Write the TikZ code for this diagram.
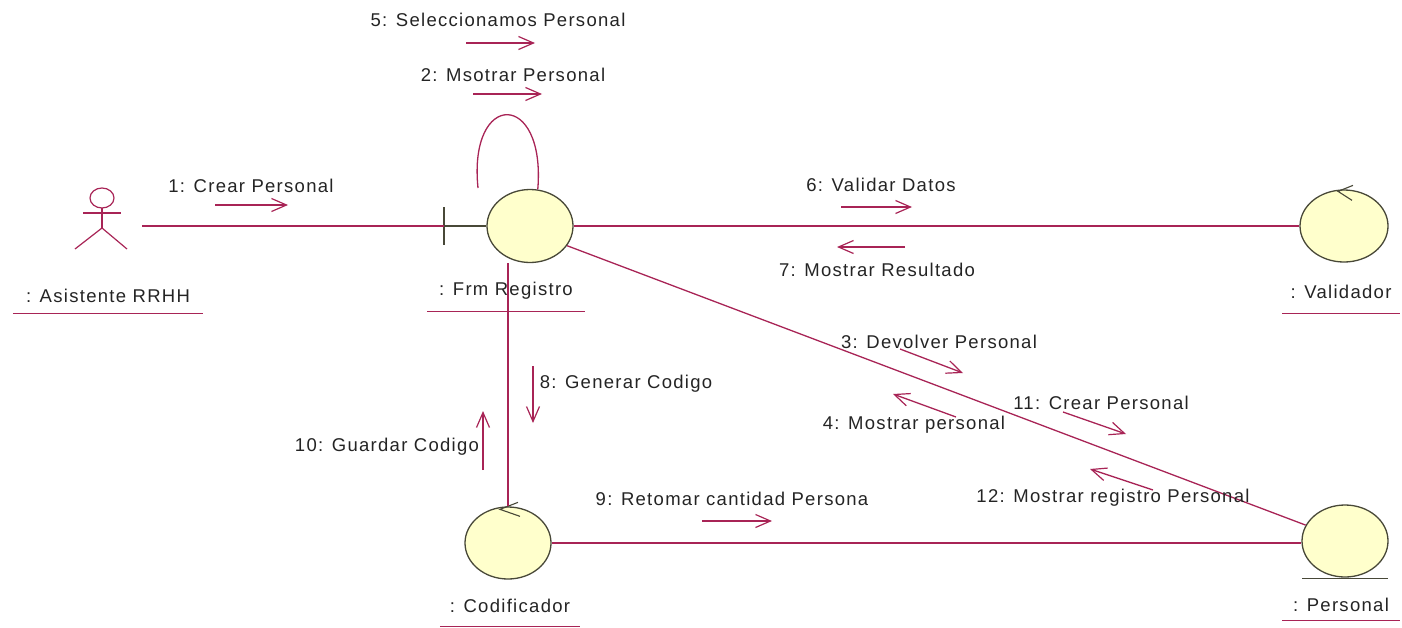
\documentclass[tikz,border=0pt]{standalone}
\usepackage{fontspec}
\setmainfont{Liberation Sans}[LetterSpace=7]
\usetikzlibrary{shapes.geometric,arrows.meta}
\definecolor{wire}{RGB}{168,36,86}
\definecolor{objfill}{RGB}{255,255,204}
\definecolor{objedge}{RGB}{72,72,56}
\definecolor{ink}{RGB}{36,36,36}
\tikzset{
  x=1pt, y=-1pt,
  obj/.style={ellipse, draw=objedge, fill=objfill, line width=1.3pt, inner sep=0pt,
              minimum width=86pt, minimum height=73pt},
  link/.style={draw=wire, line width=1.3pt},
  dark/.style={draw=objedge, line width=1.3pt},
  msg/.style={draw=wire, line width=1.3pt, -{Straight Barb[length=15pt,width=13pt,line width=1.2pt]}},
  lbl/.style={text=ink, inner sep=0pt, font=\fontsize{18.5}{21}\selectfont},
  objlbl/.style={lbl, minimum width=#1, minimum height=24pt},
  uline/.style={draw=wire, line width=1.3pt},
}
\begin{document}
\begin{tikzpicture}
\useasboundingbox (0,0) rectangle (1402,627);

% ---- actor ----
\begin{scope}[draw=wire, line width=1.2pt]
  \draw (102,198) ellipse (12 and 10);
  \draw (102,208) -- (102,228);
  \draw (83,213) -- (121,213);
  \draw (75,249) -- (102,228) -- (127,249);
\end{scope}
\coordinate (actR) at (142,226);
\node[objlbl=190pt] (la) at (108,296) {: Asistente RRHH};
\draw[uline] ([yshift=-5]la.south west) -- ([yshift=-5]la.south east);

% ---- objects ----
\node[obj] (frm) at (530,226) {};
\node[obj, minimum width=88pt, minimum height=72pt] (val) at (1344,226) {};
\node[obj, minimum height=72pt] (pers) at (1345,541) {};
\node[obj, minimum height=72pt] (cod) at (508,543) {};

% boundary stroke of the form
\coordinate (bar) at (444,226);
\draw[dark] (444,207) -- (444,245);
\draw[dark] (bar) -- (frm.west);

% control marks
\draw[dark, line width=1.1pt] ([shift={(9,-4)}]val.north) -- ([shift={(-6,2)}]val.north) -- ([shift={(8,11)}]val.north);
\draw[dark, line width=1.1pt] ([shift={(10,-4)}]cod.north) -- ([shift={(-8,3)}]cod.north) -- ([shift={(12,10)}]cod.north);

% entity base line
\draw[dark] ([xshift=-43,yshift=-1]pers.south) -- ([xshift=43,yshift=-1]pers.south);

% object labels
\node[objlbl=157pt] (lf) at (506,291) {: Frm Registro};
\draw[uline] ([yshift=-8]lf.south west) -- ([yshift=-8]lf.south east);
\node[objlbl=117pt] (lv) at (1341,292) {: Validador};
\draw[uline] ([yshift=-9]lv.south west) -- ([yshift=-9]lv.south east);
\node[objlbl=117pt] (lp) at (1341,605) {: Personal};
\draw[uline] ([yshift=-3]lp.south west) -- ([yshift=-3]lp.south east);
\node[objlbl=140pt] (lc) at (510,606) {: Codificador};
\draw[uline] ([yshift=-8]lc.south west) -- ([yshift=-8]lc.south east);

% ---- links ----
\draw[link] (actR) -- (bar);
\draw[link] (frm.east) -- (val.west);
\draw[link] (frm.-28) -- (pers.158);
\draw[link] (cod.north |- frm.south) -- (cod.north);
\draw[link] (cod.east) -- (cod.east -| pers.west);
\coordinate (loopEnd) at (478,188);
\draw[link] (frm.78) .. controls (546,90) and (468,90) .. (loopEnd);

% ---- messages ----
\node[lbl] (m1) at (251,186) {1: Crear Personal};
\draw[msg] (215,205) -- (288,205);

\node[lbl] (m5) at (498,20) {5: Seleccionamos Personal};
\draw[msg] (466,43) -- (535,43);

\node[lbl] (m2) at (513,75) {2: Msotrar Personal};
\draw[msg] (473,94) -- (542,94);

\node[lbl] (m6) at (881,185) {6: Validar Datos};
\draw[msg] (841,207) -- (912,207);

\node[lbl] (m7) at (877,270) {7: Mostrar Resultado};
\draw[msg] (905,247) -- (837,247);

\node[lbl] (m3) at (939,342) {3: Devolver Personal};
\draw[msg] (900,349) -- (963,373);

\node[lbl] (m4) at (914,425) {4: Mostrar personal};
\draw[msg] (956,417) -- (893,394);

\node[lbl] (m11) at (1101,403) {11: Crear Personal};
\draw[msg] (1063,412) -- (1126,434);

\node[lbl] (m12) at (1113,498) {12: Mostrar registro Personal};
\draw[msg] (1153,490) -- (1090,469);

\node[lbl] (m8) at (626,384) {8: Generar Codigo};
\draw[msg] (533,366) -- (533,423);

\node[lbl] (m10) at (387,447) {10: Guardar Codigo};
\draw[msg] (483,470) -- (483,411);

\node[lbl] (m9) at (732,499) {9: Retomar cantidad Persona};
\draw[msg] (702,521) -- (772,521);
\end{tikzpicture}
\end{document}
